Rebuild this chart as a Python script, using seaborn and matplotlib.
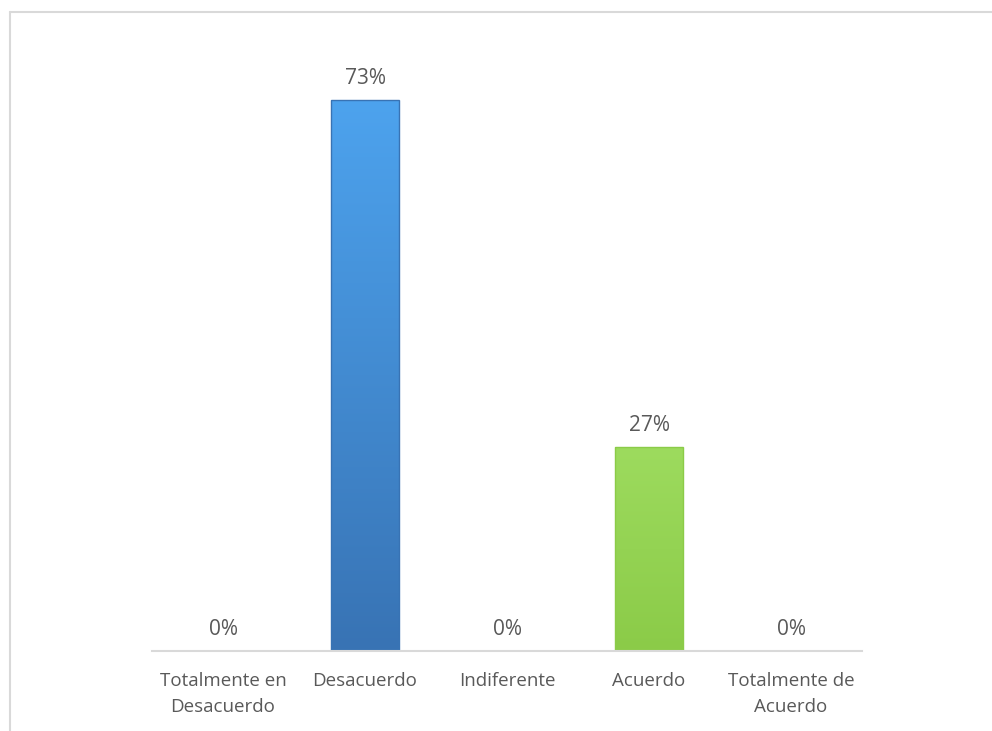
import matplotlib
matplotlib.use("Agg")
import matplotlib.pyplot as plt
import seaborn as sns
import pandas as pd
import numpy as np
from matplotlib.colors import LinearSegmentedColormap
from matplotlib.patches import Rectangle

categories = ["Totalmente en\nDesacuerdo", "Desacuerdo", "Indiferente", "Acuerdo", "Totalmente de\nAcuerdo"]
values = [0, 73, 0, 27, 0]
labels = ["0%", "73%", "0%", "27%", "0%"]
top_colors = ["#4f81bd", "#4da3ee", "#a5a5a5", "#9ddb5e", "#4bacc6"]
bot_colors = ["#4f81bd", "#3873b4", "#a5a5a5", "#8bcb48", "#4bacc6"]

sns.set_theme(style="white")
plt.rcParams["font.family"] = ["Open Sans", "DejaVu Sans"]

df = pd.DataFrame({"cat": categories, "val": values})

fig = plt.figure(figsize=(9.92, 7.31), dpi=100)
ax = fig.add_axes([152/992, (731-651)/731, (862-152)/992, (651-47)/731])
sns.barplot(data=df, x="cat", y="val", hue="cat", palette=top_colors, legend=False,
            width=0.475, ax=ax, saturation=1)
ax.set_ylim(0, 80)
ax.set_xlim(-0.5, 4.5)

# gradient fill clipped to bars
for patch, tc, bc, v in zip(ax.patches, top_colors, bot_colors, values):
    if v <= 0:
        continue
    x0, y0 = patch.get_x(), patch.get_y()
    w, h = patch.get_width(), patch.get_height()
    cmap = LinearSegmentedColormap.from_list("g", [bc, tc])
    grad = np.linspace(0, 1, 256).reshape(-1, 1)
    im = ax.imshow(grad, extent=[x0, x0 + w, y0, y0 + h], origin="lower",
                   cmap=cmap, aspect="auto", zorder=patch.get_zorder() + 0.1)
    im.set_clip_path(patch)
    edge = Rectangle((x0, y0), w, h, fill=False, edgecolor=bc, linewidth=1.0,
                     zorder=patch.get_zorder() + 0.2)
    ax.add_patch(edge)
ax.set_aspect("auto")
ax.set_xlim(-0.5, 4.5)
ax.set_ylim(0, 80)

for i, (v, lab) in enumerate(zip(values, labels)):
    ax.annotate(lab, (i, v), xytext=(0, 8), textcoords="offset points",
                ha="center", va="bottom", fontsize=15, color="#595959")

ax.set_xlabel("")
ax.set_ylabel("")
ax.set_yticks([])
ax.tick_params(axis="x", length=0, pad=15, labelsize=13.5, labelcolor="#595959")
for t in ax.get_xticklabels():
    t.set_linespacing(1.6)
for s in ["top", "right", "left"]:
    ax.spines[s].set_visible(False)
ax.spines["bottom"].set_color("#d9d9d9")
ax.spines["bottom"].set_linewidth(1.5)

# chart area border (top and left visible)
fig.add_artist(plt.Line2D([10/992, 1.0], [(731-12)/731]*2, color="#d9d9d9", lw=1.5,
                          transform=fig.transFigure))
fig.add_artist(plt.Line2D([10/992]*2, [0, (731-12)/731], color="#d9d9d9", lw=1.5,
                          transform=fig.transFigure))

fig.savefig("out.png", dpi=100)
